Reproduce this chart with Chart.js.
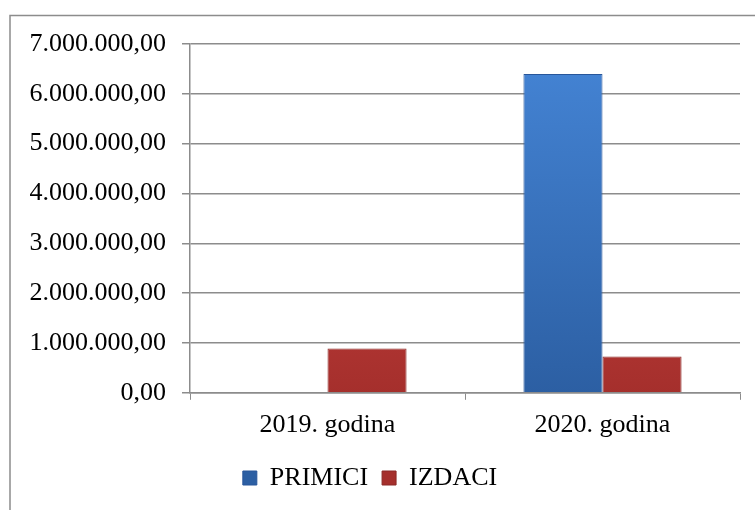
<!DOCTYPE html>
<html>
<head>
<meta charset="utf-8">
<script src="https://cdn.jsdelivr.net/npm/chart.js@4"></script>
<style>
html,body{margin:0;padding:0;background:#fff;}
#wrap{width:755px;height:510px;position:relative;}
</style>
</head>
<body>
<div id="wrap"><canvas id="grafikon"></canvas></div>
<script>
/* podaci */
const kategorije=["2019. godina","2020. godina"];
const primici=[0,6400000];
const izdaci=[890000,730000];
const yMax=7000000;
const yKorak=1000000;

function formatBroj(v){
    const dijelovi=v.toFixed(2).split(".");
    const cijeli=dijelovi[0].replace(/\B(?=(\d{3})+(?!\d))/g,".");
    return cijeli+","+dijelovi[1];
}

function gradijent(ctx,gore,dolje,rezerva){
    const c=ctx.chart;
    if(!c.chartArea) return rezerva;
    const g=c.ctx.createLinearGradient(0,c.chartArea.top,0,c.chartArea.bottom);
    g.addColorStop(0,gore);
    g.addColorStop(1,dolje);
    return g;
}

/* okvir oko grafikona */
const okvir={
    id:"okvir",
    beforeDraw(chart){
        const ctx=chart.ctx;
        ctx.save();
        ctx.strokeStyle="#8c8c8c";
        ctx.lineWidth=1.5;
        ctx.beginPath();
        ctx.moveTo(10,510);
        ctx.lineTo(10,15.5);
        ctx.lineTo(755,15.5);
        ctx.stroke();
        ctx.restore();
    }
};

const font={family:"'Liberation Serif','Times New Roman',serif",size:26};

new Chart(document.getElementById("grafikon"),{
    type:"bar",
    data:{
        labels:kategorije,
        datasets:[{
            label:"PRIMICI",
            data:primici,
            backgroundColor:(ctx)=>gradijent(ctx,"#4585d6","#2c5fa3","#3572c2"),
            borderColor:"#28569a",
            borderWidth:1,
            categoryPercentage:0.575,
            barPercentage:1
        },{
            label:"IZDACI",
            data:izdaci,
            backgroundColor:(ctx)=>gradijent(ctx,"#db4d4a","#a52f2c","#c13936"),
            borderColor:"#8b2926",
            borderWidth:1,
            categoryPercentage:0.575,
            barPercentage:1
        }]
    },
    options:{
        responsive:true,
        maintainAspectRatio:false,
        animation:false,
        layout:{
            padding:{left:0,right:15,top:44,bottom:9}
        },
        plugins:{
            legend:{
                display:true,
                position:"bottom",
                labels:{
                    font:font,
                    color:"#000",
                    boxWidth:14,
                    boxHeight:14,
                    padding:14
                }
            },
            tooltip:{enabled:false}
        },
        scales:{
            x:{
                grid:{
                    drawOnChartArea:false,
                    color:"#8c8c8c",
                    tickLength:7
                },
                border:{color:"#8c8c8c",width:1.5},
                ticks:{font:font,color:"#000",padding:10}
            },
            y:{
                min:0,
                max:yMax,
                afterFit(scale){scale.width=190;},
                grid:{
                    color:"#8c8c8c",
                    lineWidth:1.5,
                    tickLength:8
                },
                border:{color:"#8c8c8c",width:1.5},
                ticks:{
                    stepSize:yKorak,
                    font:font,
                    color:"#000",
                    padding:16,
                    callback:(v)=>formatBroj(v)
                }
            }
        }
    },
    plugins:[okvir]
});
</script>
</body>
</html>
